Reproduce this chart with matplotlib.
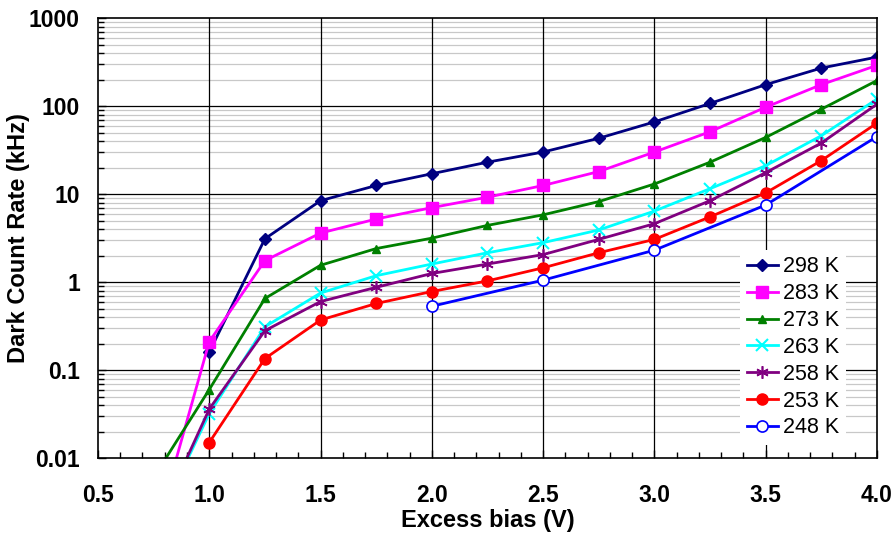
import matplotlib
matplotlib.use("Agg")
import matplotlib.pyplot as plt
from matplotlib.ticker import MultipleLocator, LogLocator, FixedLocator, NullFormatter, FormatStrFormatter

plt.rcParams['font.family'] = ['Liberation Sans', 'DejaVu Sans']

# excess bias (V)
bias = [0.75, 1.0, 1.25, 1.5, 1.75, 2.0, 2.25, 2.5, 2.75, 3.0, 3.25, 3.5, 3.75, 4.0]
bias_248 = [2.0, 2.5, 3.0, 3.5, 4.0]

# dark count rate (kHz), None = no point
dcr_298 = [None, 0.16, 3.1, 8.4, 12.5, 17, 23, 30, 43, 66, 107, 175, 270, 360]
dcr_283 = [0.0012, 0.21, 1.75, 3.6, 5.2, 7.0, 9.2, 12.5, 18, 30, 51, 97, 175, 290]
dcr_273 = [0.006, 0.06, 0.65, 1.55, 2.4, 3.15, 4.4, 5.8, 8.2, 13, 23, 44, 92, 195]
dcr_263 = [0.0015, 0.032, 0.31, 0.75, 1.18, 1.6, 2.15, 2.8, 3.9, 6.4, 11.5, 21, 46, 120]
dcr_258 = [0.0015, 0.036, 0.28, 0.6, 0.87, 1.25, 1.6, 2.05, 3.05, 4.6, 8.4, 17.5, 38, 105]
dcr_253 = [None, 0.015, 0.135, 0.37, 0.57, 0.78, 1.03, 1.45, 2.15, 3.05, 5.5, 10.3, 24, 64]
dcr_248 = [0.53, 1.05, 2.3, 7.5, 45]

labels = ['298 K', '283 K', '273 K', '263 K', '258 K', '253 K', '248 K']


def clean(xs, ys):
    pts = [(x, y) for x, y in zip(xs, ys) if y is not None]
    return [p[0] for p in pts], [p[1] for p in pts]


fig = plt.figure(figsize=(8.94, 5.36), dpi=100)
ax = fig.add_axes([0.1096, 0.1455, 0.8714, 0.8209])

series = [
    (bias, dcr_298, dict(color='#000080', marker='D', ms=6)),
    (bias, dcr_283, dict(color='#FF00FF', marker='s', ms=8)),
    (bias, dcr_273, dict(color='#008000', marker='^', ms=6)),
    (bias, dcr_263, dict(color='#00FFFF', marker='x', ms=8, mew=1.5)),
    (bias, dcr_258, dict(color='#800080', marker=(6, 2, 0), ms=9, mew=1.2)),
    (bias, dcr_253, dict(color='#FF0000', marker='o', ms=8)),
    (bias_248, dcr_248, dict(color='#0000FF', marker='o', ms=8, mfc='white', mew=1.2)),
]

for (xs, ys, style), lab in zip(series, labels):
    x, y = clean(xs, ys)
    ax.plot(x, y, lw=2, label=lab, zorder=3, **style)

ax.set_yscale('log')
ax.set_xlim(0.5, 4.0)
ax.set_ylim(0.01, 1000)

ax.xaxis.set_major_locator(MultipleLocator(0.5))
ax.xaxis.set_minor_locator(MultipleLocator(0.1))
ax.xaxis.set_major_formatter(FormatStrFormatter('%.1f'))
ax.yaxis.set_major_locator(FixedLocator([0.01, 0.1, 1, 10, 100, 1000]))
ax.yaxis.set_major_formatter(FormatStrFormatter('%g'))
ax.yaxis.set_minor_locator(LogLocator(base=10, subs=range(2, 10), numticks=20))
ax.yaxis.set_minor_formatter(NullFormatter())

# grid: gray minor lines first, black major lines on top of them
ax.grid(which='minor', axis='y', color='#c8c8c8', lw=0.9, zorder=0.5)
ax.set_axisbelow(True)
for v in [0.1, 1, 10, 100]:
    ax.axhline(v, color='black', lw=0.9, zorder=1)
for v in [1.0, 1.5, 2.0, 2.5, 3.0, 3.5]:
    ax.axvline(v, color='black', lw=0.9, zorder=1)

ax.tick_params(which='both', direction='in', labelsize=16.5, width=1)
ax.tick_params(which='major', length=6)
ax.tick_params(which='minor', length=4)
ax.tick_params(axis='x', pad=19)
ax.tick_params(axis='y', pad=13)
for lbl in ax.get_xticklabels() + ax.get_yticklabels():
    lbl.set_fontweight('bold')
for s in ax.spines.values():
    s.set_linewidth(1.2)
    s.set_zorder(4)

ax.set_xlabel('Excess bias (V)', fontsize=17, fontweight='bold', labelpad=1)
ax.set_ylabel('Dark Count Rate (kHz)', fontsize=17, fontweight='bold')
ax.yaxis.set_label_coords(-0.087, 0.5)

leg = ax.legend(loc='lower right', bbox_to_anchor=(0.960, 0.03), fontsize=15.5,
                frameon=True, fancybox=False, edgecolor='none', framealpha=1,
                handlelength=1.45, borderaxespad=0.0, labelspacing=0.27,
                handletextpad=0.25, borderpad=0.3)
leg.set_zorder(5)

fig.savefig('out.png', dpi=100)
